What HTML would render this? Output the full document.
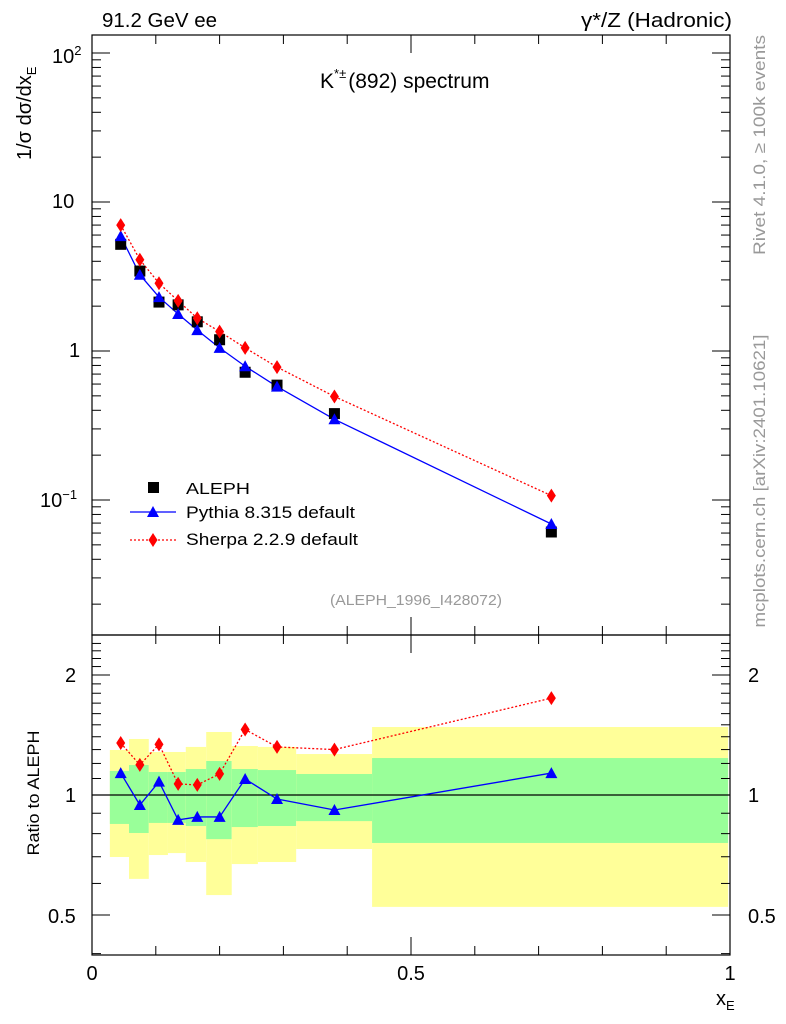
<!DOCTYPE html>
<html><head><meta charset="utf-8"><style>
body{margin:0;background:#fff;}
svg{display:block;font-family:"Liberation Sans",sans-serif;}
</style></head><body>
<svg id="c" width="786" height="1024"></svg>
<script>
const xCenters=[0.045,0.075,0.105,0.135,0.165,0.2,0.24,0.29,0.38,0.72];
const binEdges=[0.028,0.058,0.089,0.119,0.147,0.179,0.219,0.26,0.32,0.439,0.997];
const alephVals=[5.2,3.44,2.13,2.04,1.57,1.19,0.72,0.59,0.38,0.061];
const pythiaVals=[5.9,3.25,2.3,1.77,1.38,1.05,0.79,0.577,0.348,0.069];
const sherpaVals=[7.0,4.1,2.85,2.17,1.66,1.35,1.05,0.78,0.495,0.107];
const pythiaRatio=[1.135,0.944,1.08,0.866,0.881,0.881,1.097,0.977,0.917,1.135];
const sherpaRatio=[1.35,1.19,1.34,1.066,1.06,1.13,1.46,1.32,1.30,1.75];
const yelHi=[1.297,1.382,1.282,1.282,1.32,1.439,1.327,1.32,1.267,1.481];
const yelLo=[0.699,0.616,0.707,0.715,0.679,0.561,0.671,0.679,0.732,0.524];
const grnHi=[1.149,1.189,1.142,1.142,1.162,1.217,1.162,1.155,1.129,1.238];
const grnLo=[0.846,0.803,0.851,0.851,0.836,0.775,0.831,0.836,0.86,0.758];
const xTicks=[0,0.5,1];const xTickLabels=["0","0.5","1"];

const NS="http://www.w3.org/2000/svg";const svg=document.getElementById('c');
const L=92,R=730,T=35,M=635,B=955;
const X=v=>L+v*(R-L);
const Y=v=>351-Math.log10(v)*149;
const YR=v=>795-Math.log2(v)*120;
function el(t,a,p){const e=document.createElementNS(NS,t);for(const k in a)e.setAttribute(k,a[k]);(p||svg).appendChild(e);return e;}
function txt(s,x,y,a){const e=el('text',Object.assign({x:x,y:y,'font-size':19},a||{}));e.textContent=s;return e;}

const gB=el('g',{});


for(let i=0;i<xCenters.length;i++){
 const x0=X(binEdges[i]),x1=X(binEdges[i+1]);
 const y=el('rect',{x:x0,y:YR(yelHi[i]),width:x1-x0,height:YR(yelLo[i])-YR(yelHi[i]),fill:'#ffff99'},gB);
 
 
 const g=el('rect',{x:x0,y:YR(grnHi[i]),width:x1-x0,height:YR(grnLo[i])-YR(grnHi[i]),fill:'#99ff99'},gB);
 
 
}
el('line',{x1:L,x2:R,y1:YR(1),y2:YR(1),stroke:'#000','stroke-width':1.2});

const f1=el('rect',{x:L,y:T,width:R-L,height:M-T,fill:'none',stroke:'#000','stroke-width':1.2});

const f2=el('rect',{x:L,y:M,width:R-L,height:B-M,fill:'none',stroke:'#000','stroke-width':1.2});


for(let d=-2;d<=2;d++){for(let m=1;m<10;m++){const v=m*Math.pow(10,d);const y=Y(v);if(y<T||y>M)continue;
 const len=m==1?18:9;
 el('line',{x1:L,x2:L+len,y1:y,y2:y,stroke:'#000'});el('line',{x1:R,x2:R-len,y1:y,y2:y,stroke:'#000'});}}
txt('10',52,208,{'font-size':20});txt('1',69,357,{'font-size':20});
let t=txt('10',40,507,{'font-size':20});el('tspan',{dy:-8,'font-size':13},t).textContent='−1';
t=txt('10',52,63,{'font-size':20});el('tspan',{dy:-8,'font-size':13},t).textContent='2';
for(let v=0.4;v<=2.5;v+=0.1){const vv=Math.round(v*10)/10;const y=YR(vv);if(y<M||y>B)continue;
 const len=(vv==0.5||vv==1||vv==2)?18:9;
 el('line',{x1:L,x2:L+len,y1:y,y2:y,stroke:'#000'});el('line',{x1:R,x2:R-len,y1:y,y2:y,stroke:'#000'});}
txt('2',65,682,{'font-size':20});txt('1',65,802,{'font-size':20});txt('0.5',48,923,{'font-size':20});
txt('2',748,682,{'font-size':20});txt('1',748,802,{'font-size':20});txt('0.5',748,923,{'font-size':20});
for(let i=0;i<=10;i++){const v=i/10;const len=(i%5==0)?18:9;const x=X(v);
 el('line',{x1:x,x2:x,y1:B,y2:B-len,stroke:'#000'});el('line',{x1:x,x2:x,y1:M,y2:M-len,stroke:'#000'});el('line',{x1:x,x2:x,y1:M,y2:M+len,stroke:'#000'});el('line',{x1:x,x2:x,y1:T,y2:T+len,stroke:'#000'});}
xTicks.forEach((v,i)=>txt(xTickLabels[i],X(v),980,{'text-anchor':'middle','font-size':20}));

function poly(xs,ys,st,dash,name){const p=el('polyline',{points:xs.map((x,i)=>X(x)+','+ys[i]).join(' '),fill:'none',stroke:st,'stroke-width':1.3,'stroke-dasharray':dash||'none'});}
function tri(x,y,c){el('polygon',{points:`${x},${y-6} ${x-6},${y+5} ${x+6},${y+5}`,fill:c});}
function dia(x,y,c){el('polygon',{points:`${x},${y-7} ${x-4.5},${y} ${x},${y+7} ${x+4.5},${y}`,fill:c});}
poly(xCenters,sherpaVals.map(Y),'#f00','2,2','sherpa-line');
poly(xCenters,pythiaVals.map(Y),'#00f',null,'pythia-line');
xCenters.forEach((x,i)=>{const r=el('rect',{x:X(x)-5.5,y:Y(alephVals[i])-5.5,width:11,height:11,fill:'#000'});
 });
xCenters.forEach((x,i)=>tri(X(x),Y(pythiaVals[i]),'#00f'));
xCenters.forEach((x,i)=>dia(X(x),Y(sherpaVals[i]),'#f00'));
poly(xCenters,sherpaRatio.map(YR),'#f00','2,2','sherpa-ratio-line');
poly(xCenters,pythiaRatio.map(YR),'#00f',null,'pythia-ratio-line');
xCenters.forEach((x,i)=>tri(X(x),YR(pythiaRatio[i]),'#00f'));
xCenters.forEach((x,i)=>dia(X(x),YR(sherpaRatio[i]),'#f00'));

el('rect',{x:148,y:482,width:11,height:11,fill:'#000'});txt('ALEPH',186,494,{'font-size':16,textLength:64,lengthAdjust:'spacingAndGlyphs'});
el('line',{x1:130,x2:176,y1:512,y2:512,stroke:'#00f','stroke-width':1.3});tri(153,512,'#00f');txt('Pythia 8.315 default',186,518,{'font-size':17,textLength:169,lengthAdjust:'spacingAndGlyphs'});
el('line',{x1:130,x2:176,y1:540,y2:540,stroke:'#f00','stroke-width':1.3,'stroke-dasharray':'2,2'});dia(153,540,'#f00');txt('Sherpa 2.2.9 default',186,545,{'font-size':17,textLength:172,lengthAdjust:'spacingAndGlyphs'});

txt('91.2 GeV ee',102,27,{'font-size':20,textLength:115,lengthAdjust:'spacingAndGlyphs'});
txt('γ*/Z (Hadronic)',732,27,{'text-anchor':'end','font-size':20,textLength:151,lengthAdjust:'spacingAndGlyphs'});
t=txt('K',320,88,{'font-size':21});el('tspan',{dy:-10,'font-size':13},t).textContent='*±';el('tspan',{dy:10,dx:2},t).textContent='(892) spectrum';
txt('(ALEPH_1996_I428072)',416,605,{'text-anchor':'middle','font-size':15,fill:'#999',textLength:172,lengthAdjust:'spacingAndGlyphs'});
t=txt('1/σ   dσ/dx',0,0,{transform:'translate(31,160) rotate(-90)','font-size':20});el('tspan',{dy:5,'font-size':13},t).textContent='E';
txt('Ratio to ALEPH',0,0,{transform:'translate(39,793) rotate(-90)','text-anchor':'middle','font-size':17,textLength:125,lengthAdjust:'spacingAndGlyphs'});
t=txt('x',716,1005,{'font-size':20});el('tspan',{dy:5,'font-size':13},t).textContent='E';
txt('Rivet 4.1.0, ≥ 100k events',0,0,{transform:'translate(765,145) rotate(-90)','text-anchor':'middle','font-size':17,fill:'#999',textLength:220,lengthAdjust:'spacingAndGlyphs'});
txt('mcplots.cern.ch [arXiv:2401.10621]',0,0,{transform:'translate(765,481) rotate(-90)','text-anchor':'middle','font-size':17,fill:'#999',textLength:293,lengthAdjust:'spacingAndGlyphs'});
</script>
</body></html>
